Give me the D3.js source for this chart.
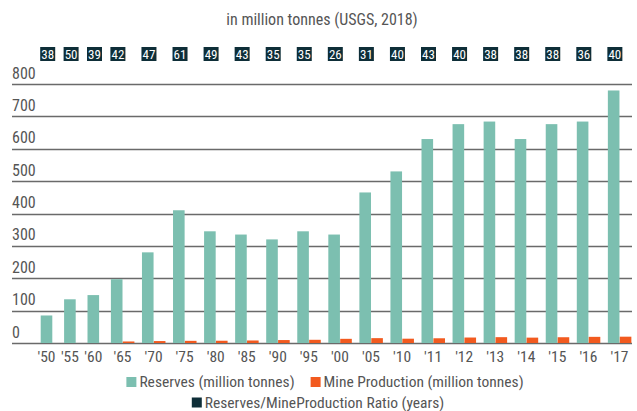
<!DOCTYPE html>
<html>
<head>
<meta charset="utf-8">
<script src="https://cdn.jsdelivr.net/npm/d3@7"></script>
<style>
  html, body { margin: 0; padding: 0; background: #fff; }
  svg { display: block; }
  text { font-family: "Liberation Sans Narrow", "Arial Narrow", "Roboto Condensed", "Liberation Sans", sans-serif; }
</style>
</head>
<body>
<svg id="chart" width="637" height="411"></svg>
<script>
const categories = ["'50","'55","'60","'65","'70","'75","'80","'85","'90","'95","'00","'05","'10","'11","'12","'13","'14","'15","'16","'17"];
const reserves = [85,135,148,197,280,410,345,335,320,345,335,465,530,630,676,684,630,676,684,780];
const production = [null,null,null,4.7,6,6.7,7,7.8,9.1,9.9,12.9,15,13.3,14.6,16.9,18,16.6,17.8,19,19.5];
const ratio = [38,50,39,42,47,61,49,43,35,35,26,31,40,43,40,38,38,38,36,40];
const yTicks = [0,100,200,300,400,500,600,700,800];
const title = "in million tonnes (USGS, 2018)";
const legendItems = [
  {label: "Reserves (million tonnes)", key: "res"},
  {label: "Mine Production (million tonnes)", key: "prod"},
  {label: "Reserves/MineProduction Ratio (years)", key: "ratio"}
];

const colors = {res: "#7cbfb0", prod: "#f25a1f", ratio: "#0e2e38", text: "#555", grid: "#6a6a6a"};
const svg = d3.select("#chart");

// slot widths: categories with a production bar take a full slot, others a narrower one
const slotUnit = 31.06, singleFrac = 0.7534, barW = 11.6;
const units = production.map(p => p == null ? singleFrac : 1);
const starts = [];
units.reduce((acc, u, i) => { starts[i] = acc; return acc + u; }, 0);
const total = d3.sum(units);
const x = d3.scaleLinear().domain([0, total]).range([40.7, 40.7 + total * slotUnit]);
const y = d3.scaleLinear().domain([0, 800]).range([343, 84]);

const gridLeft = 12, gridRight = 632;

// gridlines
svg.append("g").selectAll("line").data(yTicks).join("line")
  .attr("x1", gridLeft).attr("x2", gridRight)
  .attr("y1", d => Math.round(y(d)) + 0.5).attr("y2", d => Math.round(y(d)) + 0.5)
  .attr("stroke", colors.grid).attr("stroke-width", 1.3);

// y labels
svg.append("g").selectAll("text").data(yTicks).join("text")
  .attr("x", gridLeft).attr("y", d => y(d) - 5.5)
  .attr("fill", colors.text).attr("font-size", 16)
  .text(d => d);

// reserve bars
svg.append("g").selectAll("rect").data(reserves).join("rect")
  .attr("x", (d, i) => x(starts[i]))
  .attr("y", d => y(d))
  .attr("width", barW)
  .attr("height", d => y(0) - y(d))
  .attr("fill", colors.res);

// production bars
svg.append("g").selectAll("rect").data(production.map((v, i) => ({v, i})).filter(d => d.v != null)).join("rect")
  .attr("x", d => x(starts[d.i]) + barW + 0.3)
  .attr("y", d => y(d.v))
  .attr("width", barW)
  .attr("height", d => y(0) - y(d.v))
  .attr("fill", colors.prod);

// ratio boxes
const boxes = svg.append("g").selectAll("g").data(ratio).join("g")
  .attr("transform", (d, i) => `translate(${x(starts[i]) - 0.5},47)`);
boxes.append("rect").attr("width", 15).attr("height", 14).attr("fill", colors.ratio);
boxes.append("text").attr("x", 7.5).attr("y", 12).attr("text-anchor", "middle")
  .attr("fill", "#fff").attr("font-size", 13).text(d => d);

// x labels
svg.append("g").selectAll("text").data(categories).join("text")
  .attr("x", (d, i) => x(starts[i]) + (production[i] == null ? barW / 2 : barW))
  .attr("y", 362)
  .attr("text-anchor", "middle").attr("fill", colors.text).attr("font-size", 15.5)
  .text(d => d);

// title
svg.append("text").attr("x", 322).attr("y", 25).attr("text-anchor", "middle")
  .attr("fill", colors.text).attr("font-size", 16).text(title);

// legend
function legendRow(items, cy, center) {
  const g = svg.append("g");
  let cx = 0;
  items.forEach((it, k) => {
    if (k > 0) cx += 16;
    g.append("rect").attr("x", cx).attr("y", cy - 5).attr("width", 10).attr("height", 10).attr("fill", colors[it.key]);
    const t = g.append("text").attr("x", cx + 13).attr("y", cy + 5).attr("fill", colors.text).attr("font-size", 15.5).text(it.label);
    cx += 13 + t.node().getComputedTextLength();
  });
  g.attr("transform", `translate(${center - cx / 2},0)`);
}
legendRow(legendItems.slice(0, 2), 382, 325);
legendRow(legendItems.slice(2), 402.5, 318);
</script>
</body>
</html>
